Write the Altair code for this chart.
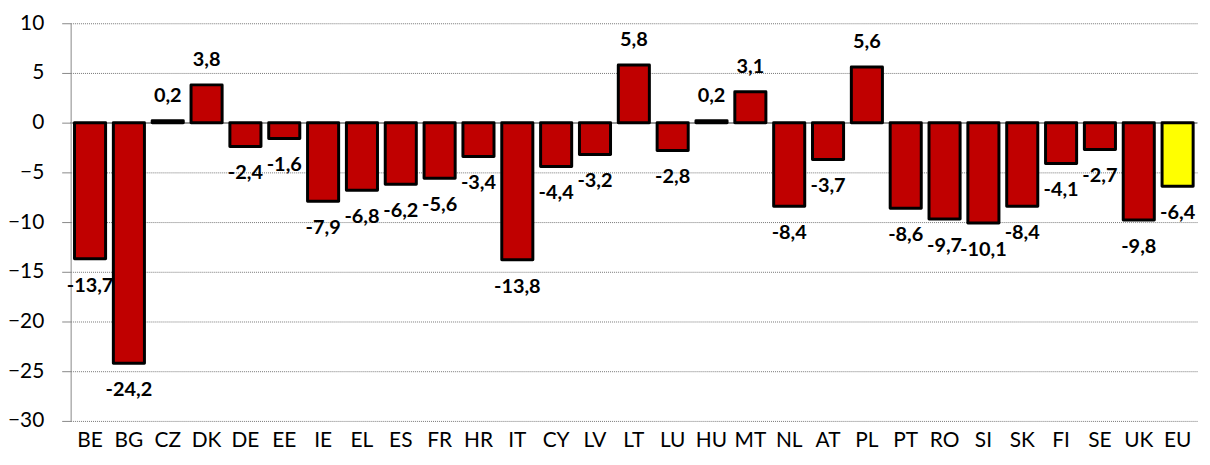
import altair as alt
import pandas as pd

countries = ["BE", "BG", "CZ", "DK", "DE", "EE", "IE", "EL", "ES", "FR", "HR", "IT", "CY", "LV",
             "LT", "LU", "HU", "MT", "NL", "AT", "PL", "PT", "RO", "SI", "SK", "FI", "SE", "UK", "EU"]
values = [-13.7, -24.2, 0.2, 3.8, -2.4, -1.6, -7.9, -6.8, -6.2, -5.6, -3.4, -13.8, -4.4, -3.2,
          5.8, -2.8, 0.2, 3.1, -8.4, -3.7, 5.6, -8.6, -9.7, -10.1, -8.4, -4.1, -2.7, -9.8, -6.4]
y_ticks = [10, 5, 0, -5, -10, -15, -20, -25, -30]

df = pd.DataFrame({
    "country": countries,
    "value": values,
    "label": [f"{v:.1f}".replace(".", ",") for v in values],
    "group": ["EU" if c == "EU" else "MS" for c in countries],
})

FONT = "Lato"
x = alt.X("country:N", sort=countries, title=None,
          scale=alt.Scale(paddingInner=0.2, paddingOuter=0.1),
          axis=alt.Axis(labelAngle=0, labelFontSize=21, labelFont=FONT, labelColor="#000",
                        domain=False, ticks=False, labelPadding=9))
y = alt.Y("value:Q", title=None,
          scale=alt.Scale(domain=[-30, 10], nice=False),
          axis=alt.Axis(values=y_ticks, labelFontSize=21, labelFont=FONT, labelColor="#000",
                        domainColor="#888", tickColor="#888", tickSize=9, labelPadding=18,
                        gridColor="#777", gridDash=[1, 1], gridWidth=1))

base = alt.Chart(df)

zero = base.mark_rule(color="#999", strokeWidth=1).encode(y=alt.datum(0))

bars = base.mark_bar(stroke="black", strokeWidth=3, strokeJoin="round").encode(
    x=x, y=y, y2=alt.datum(0),
    color=alt.Color("group:N", scale=alt.Scale(domain=["MS", "EU"], range=["#C00000", "#FFFF00"]),
                    legend=None),
)

pos = base.transform_filter("datum.value >= 0").mark_text(
    fontSize=20, fontWeight="bold", font=FONT, dy=-25, baseline="middle", color="black"
).encode(x=alt.X("country:N", sort=countries), y="value:Q", text="label:N")

neg = base.transform_filter("datum.value < 0").mark_text(
    fontSize=20, fontWeight="bold", font=FONT, dy=27, baseline="middle", color="black"
).encode(x=alt.X("country:N", sort=countries), y="value:Q", text="label:N")

chart = alt.layer(zero, bars, pos, neg).properties(
    width=1133, height=400,
    autosize=alt.AutoSizeParams(type="none"),
    padding={"left": 63, "top": 14, "right": 5, "bottom": 40},
).configure_view(stroke=None).configure_axis(grid=True).configure_axisX(grid=False)

chart.save("out.html", embed_options={"renderer": "svg", "actions": False})
